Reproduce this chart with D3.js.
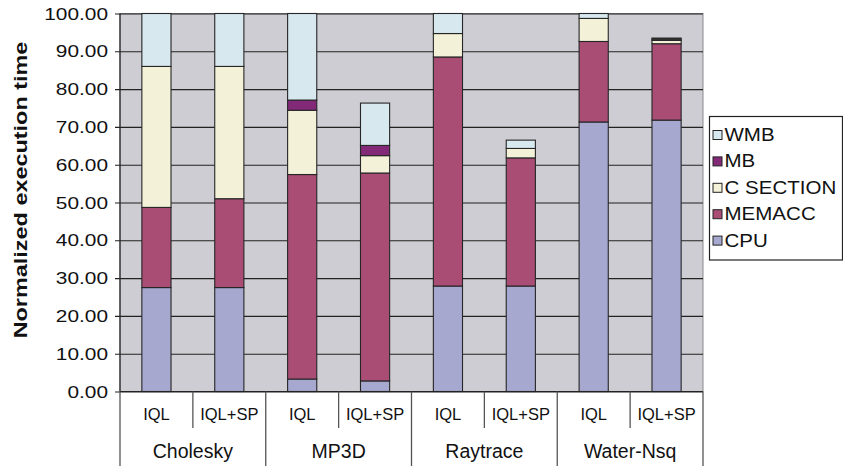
<!DOCTYPE html>
<html>
<head>
<meta charset="utf-8">
<script src="https://cdn.jsdelivr.net/npm/d3@7"></script>
<style>
  html, body { margin: 0; padding: 0; background: #fff; }
  svg { display: block; font-family: "Liberation Sans", Arial, sans-serif; }
</style>
</head>
<body>
<svg id="chart" width="843" height="466"></svg>
<script>
// Benchmarks and the two configurations run for each of them
const benchmarks = ["Cholesky", "MP3D", "Raytrace", "Water-Nsq"];
const configs = ["IQL", "IQL+SP"];

// Execution-time components (percent of normalized time), one value per bar:
// Cholesky IQL, Cholesky IQL+SP, MP3D IQL, MP3D IQL+SP, Raytrace IQL, Raytrace IQL+SP, Water-Nsq IQL, Water-Nsq IQL+SP
const cpu      = [27.5, 27.5,  3.3,  2.8, 27.9, 27.9, 71.3, 71.8];
const memacc   = [21.2, 23.5, 54.1, 55.0, 60.6, 33.9, 21.3, 20.2];
const cSection = [37.3, 35.0, 17.0,  4.6,  6.2,  2.5,  6.1,  0.9];
const mb       = [ 0.0,  0.0,  2.7,  2.7,  0.0,  0.0,  0.0,  0.3];
const wmb      = [14.0, 14.0, 22.9, 11.2,  5.3,  2.2,  1.3,  0.3];

// Stack order, bottom to top
const seriesNames = ["CPU", "MEMACC", "C SECTION", "MB", "WMB"];
const seriesValues = [cpu, memacc, cSection, mb, wmb];
const seriesColors = ["#a6a8d0", "#a94d75", "#f3f1d8", "#822a78", "#d8e8ef"];

const yTicks = d3.range(0, 101, 10);

// Build one row per bar for d3.stack
const rows = [];
benchmarks.forEach((b, bi) => configs.forEach((c, ci) => {
  const i = bi * configs.length + ci;
  const row = { key: b + "|" + c, bench: b, config: c };
  seriesNames.forEach((s, si) => row[s] = seriesValues[si][i]);
  rows.push(row);
}));

const svg = d3.select("#chart");
const plot = { left: 120, right: 703, top: 13.5, bottom: 391.5 };

const x = d3.scaleBand()
  .domain(rows.map(r => r.key))
  .range([plot.left, plot.right])
  .paddingInner(0.6)
  .paddingOuter(0.3);

const y = d3.scaleLinear().domain([0, 100]).range([plot.bottom, plot.top]);

// Plot background
svg.append("rect")
  .attr("x", plot.left).attr("y", plot.top)
  .attr("width", plot.right - plot.left).attr("height", plot.bottom - plot.top)
  .attr("fill", "#cdcdd3")
  .attr("stroke", "#8a8a8e").attr("stroke-width", 1);

// Horizontal gridlines with their ticks extending left of the axis
const yAxis = d3.axisLeft(y)
  .tickValues(yTicks)
  .tickSize(plot.right - plot.left + 5)
  .tickFormat(d3.format(".2f"));

const yg = svg.append("g")
  .attr("transform", `translate(${plot.right},0)`)
  .call(yAxis);
yg.select(".domain").remove();
yg.selectAll(".tick line")
  .attr("stroke", "#222")
  .attr("stroke-width", 1.1);
yg.selectAll(".tick text")
  .attr("x", null).attr("dy", null)
  .attr("text-anchor", "end")
  .attr("dominant-baseline", "central")
  .attr("font-size", 16.3)
  .attr("fill", "#111")
  .attr("transform", `translate(${-(plot.right - plot.left) - 12},0) scale(1.28,1)`);

// Left axis line
svg.append("line")
  .attr("x1", plot.left).attr("x2", plot.left)
  .attr("y1", plot.top).attr("y2", plot.bottom)
  .attr("stroke", "#222").attr("stroke-width", 1.2);

// Stacked bars
const stack = d3.stack().keys(seriesNames);
const layers = stack(rows);

svg.append("g").selectAll("g")
  .data(layers)
  .join("g")
  .attr("fill", (d, i) => seriesColors[i])
  .selectAll("rect")
  .data(d => d.filter(p => p[1] - p[0] > 0))
  .join("rect")
  .attr("x", d => x(d.data.key))
  .attr("width", x.bandwidth())
  .attr("y", d => y(d[1]))
  .attr("height", d => y(d[0]) - y(d[1]))
  .attr("stroke", "#262626")
  .attr("stroke-width", 1.1);

// Category axis: bottom line, separators and two rows of labels
const step = x.step();
const axisG = svg.append("g");
axisG.append("line")
  .attr("x1", plot.left).attr("x2", plot.right)
  .attr("y1", plot.bottom).attr("y2", plot.bottom)
  .attr("stroke", "#222").attr("stroke-width", 1.2);

d3.range(rows.length + 1).forEach(k => {
  const xs = plot.left + k * step;
  const isGroupEdge = k % configs.length === 0;
  axisG.append("line")
    .attr("x1", xs).attr("x2", xs)
    .attr("y1", plot.bottom)
    .attr("y2", isGroupEdge ? 466 : 428)
    .attr("stroke", "#555").attr("stroke-width", 1.3);
});

axisG.selectAll("text.cfg")
  .data(rows)
  .join("text")
  .attr("class", "cfg")
  .attr("x", d => x(d.key) + x.bandwidth() / 2)
  .attr("y", 420)
  .attr("text-anchor", "middle")
  .attr("font-size", 16.5)
  .attr("fill", "#111")
  .text(d => d.config);

axisG.selectAll("text.bench")
  .data(benchmarks)
  .join("text")
  .attr("class", "bench")
  .attr("x", (d, i) => plot.left + (i * configs.length + configs.length / 2) * step)
  .attr("y", 458)
  .attr("text-anchor", "middle")
  .attr("font-size", 19.5)
  .attr("fill", "#111")
  .text(d => d);

// Y axis title
svg.append("text")
  .attr("transform", "translate(27,190) rotate(-90) scale(1.26,1)")
  .attr("text-anchor", "middle")
  .attr("font-size", 18.6)
  .attr("font-weight", "bold")
  .attr("fill", "#111")
  .text("Normalized execution time");

// Legend (top entry is the top of the stack)
const legend = svg.append("g");
legend.append("rect")
  .attr("x", 709.5).attr("y", 116.5)
  .attr("width", 133).attr("height", 143.5)
  .attr("fill", "#fff")
  .attr("stroke", "#222").attr("stroke-width", 1.2);

const legendOrder = d3.range(seriesNames.length).reverse();
const item = legend.selectAll("g.item")
  .data(legendOrder)
  .join("g")
  .attr("class", "item")
  .attr("transform", (d, j) => `translate(713,${135 + j * 26.4})`);
item.append("rect")
  .attr("x", 0).attr("y", -4.5)
  .attr("width", 9).attr("height", 9)
  .attr("fill", d => seriesColors[d])
  .attr("stroke", "#222").attr("stroke-width", 1);
item.append("text")
  .attr("transform", "translate(11.5,0) scale(1.16,1)")
  .attr("dominant-baseline", "central")
  .attr("font-size", 17.7)
  .attr("fill", "#111")
  .text(d => seriesNames[d]);
</script>
</body>
</html>
